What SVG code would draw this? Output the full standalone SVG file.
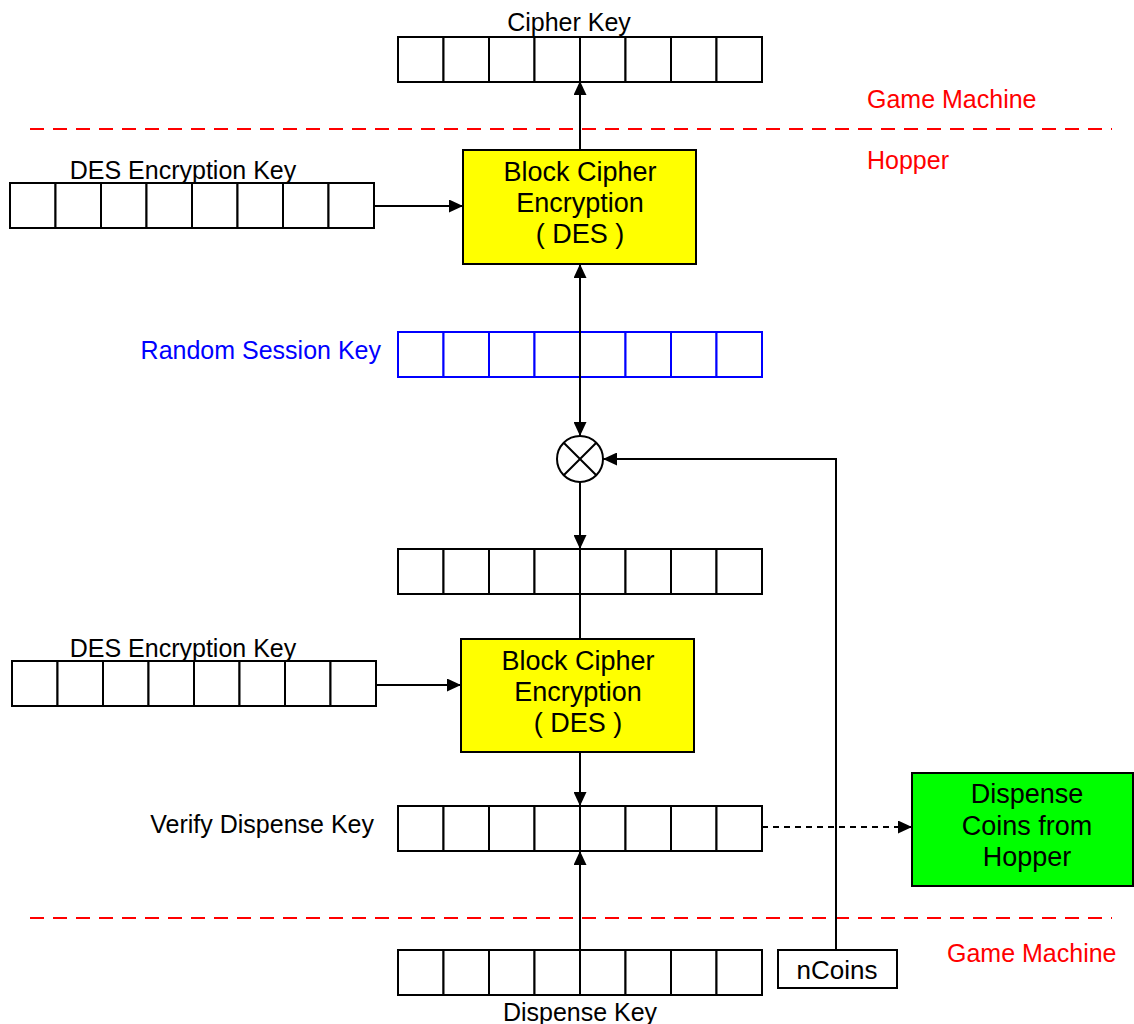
<svg xmlns="http://www.w3.org/2000/svg" width="1134" height="1024" viewBox="0 0 1134 1024">
<defs>
<style>
text{font-family:"Liberation Sans",Arial,sans-serif;font-size:25px;fill:#000}
.big{font-size:27px}
.red{fill:#ff0000}
.blue{fill:#0000ff}
.mid{text-anchor:middle}
.end{text-anchor:end}
.cell{fill:#fff;stroke:#000;stroke-width:2}
.bcell{fill:#fff;stroke:#0000ff;stroke-width:2}
.ln{fill:none;stroke:#000;stroke-width:2}
.dash{fill:none;stroke:#000;stroke-width:1.8;stroke-dasharray:6 5}
.sep{fill:none;stroke:#ff0000;stroke-width:2;stroke-dasharray:14 9}
.yel{fill:#ffff00;stroke:#000;stroke-width:2}
.grn{fill:#00ff00;stroke:#000;stroke-width:2}
</style>
<marker id="ah" markerUnits="userSpaceOnUse" markerWidth="14" markerHeight="13" refX="14" refY="6.5" orient="auto">
<path d="M0,0 L14,6.5 L0,13 z" fill="#000"/>
</marker>
<g id="reg">
<rect class="cell" x="0" y="0" width="45.5" height="45"/>
<rect class="cell" x="45.5" y="0" width="45.5" height="45"/>
<rect class="cell" x="91" y="0" width="45.5" height="45"/>
<rect class="cell" x="136.5" y="0" width="45.5" height="45"/>
<rect class="cell" x="182" y="0" width="45.5" height="45"/>
<rect class="cell" x="227.5" y="0" width="45.5" height="45"/>
<rect class="cell" x="273" y="0" width="45.5" height="45"/>
<rect class="cell" x="318.5" y="0" width="45.5" height="45"/>
</g>
</defs>
<rect width="1134" height="1024" fill="#fff"/>

<g id="separators">
<line class="sep" x1="30" y1="129" x2="1112" y2="129"/>
<line class="sep" x1="30" y1="918" x2="1112" y2="918"/>
<text class="red" x="867" y="108">Game Machine</text>
<text class="red" x="867" y="169">Hopper</text>
<text class="red" x="947" y="962">Game Machine</text>
</g>

<g id="cipher-key">
<use href="#reg" x="398" y="37"/>
<text class="mid" x="569" y="31">Cipher Key</text>
</g>

<g id="des-key-1">
<use href="#reg" x="10" y="183"/>
<text class="mid" x="183" y="179">DES Encryption Key</text>
</g>

<g id="block-cipher-1">
<rect class="yel" x="463" y="150" width="233" height="114"/>
<text class="mid big" x="580" y="181">Block Cipher</text>
<text class="mid big" x="580" y="212">Encryption</text>
<text class="mid big" x="580" y="243">( DES )</text>
</g>

<g id="random-session-key">
<rect class="bcell" x="398" y="332" width="45.5" height="45"/>
<rect class="bcell" x="443.5" y="332" width="45.5" height="45"/>
<rect class="bcell" x="489" y="332" width="45.5" height="45"/>
<rect class="bcell" x="534.5" y="332" width="45.5" height="45"/>
<rect class="bcell" x="580" y="332" width="45.5" height="45"/>
<rect class="bcell" x="625.5" y="332" width="45.5" height="45"/>
<rect class="bcell" x="671" y="332" width="45.5" height="45"/>
<rect class="bcell" x="716.5" y="332" width="45.5" height="45"/>
<text class="blue end" x="381" y="359">Random Session Key</text>
</g>

<g id="xor">
<circle cx="580" cy="459" r="23" fill="#fff" stroke="#000" stroke-width="2"/>
<path d="M563.7,442.7 L596.3,475.3 M596.3,442.7 L563.7,475.3" fill="none" stroke="#000" stroke-width="2"/>
</g>

<g id="intermediate">
<use href="#reg" x="398" y="549"/>
</g>

<g id="des-key-2">
<use href="#reg" x="12" y="661"/>
<text class="mid" x="183" y="657">DES Encryption Key</text>
</g>

<g id="block-cipher-2">
<rect class="yel" x="461" y="639" width="233" height="113"/>
<text class="mid big" x="578" y="670">Block Cipher</text>
<text class="mid big" x="578" y="701">Encryption</text>
<text class="mid big" x="578" y="732">( DES )</text>
</g>

<g id="verify-key">
<use href="#reg" x="398" y="806"/>
<text class="end" x="374" y="833">Verify Dispense Key</text>
</g>

<g id="dispense-coins">
<rect class="grn" x="912" y="773" width="221" height="113"/>
<text class="mid big" x="1027" y="803">Dispense</text>
<text class="mid big" x="1027" y="835">Coins from</text>
<text class="mid big" x="1027" y="866">Hopper</text>
</g>

<g id="dispense-key">
<use href="#reg" x="398" y="950"/>
<text class="mid" x="580" y="1021">Dispense Key</text>
</g>

<g id="ncoins">
<rect class="cell" x="778" y="950" width="119" height="38"/>
<text class="mid" x="837" y="979" style="font-size:26px">nCoins</text>
</g>

<g id="connectors">
<path class="ln" d="M580,150 L580,81" marker-end="url(#ah)"/>
<path class="ln" d="M580,354 L580,264" marker-end="url(#ah)"/>
<path class="ln" d="M580,354 L580,436" marker-end="url(#ah)"/>
<path class="ln" d="M580,482 L580,549" marker-end="url(#ah)"/>
<path class="ln" d="M580,595 L580,639"/>
<path class="ln" d="M374,206 L463,206" marker-end="url(#ah)"/>
<path class="ln" d="M376,685 L461,685" marker-end="url(#ah)"/>
<path class="ln" d="M580,752 L580,806" marker-end="url(#ah)"/>
<path class="ln" d="M580,950 L580,851" marker-end="url(#ah)"/>
<path class="ln" d="M836,950 L836,459 L603,459" marker-end="url(#ah)"/>
<path class="dash" d="M762,827 L912,827" marker-end="url(#ah)"/>
</g>
</svg>
